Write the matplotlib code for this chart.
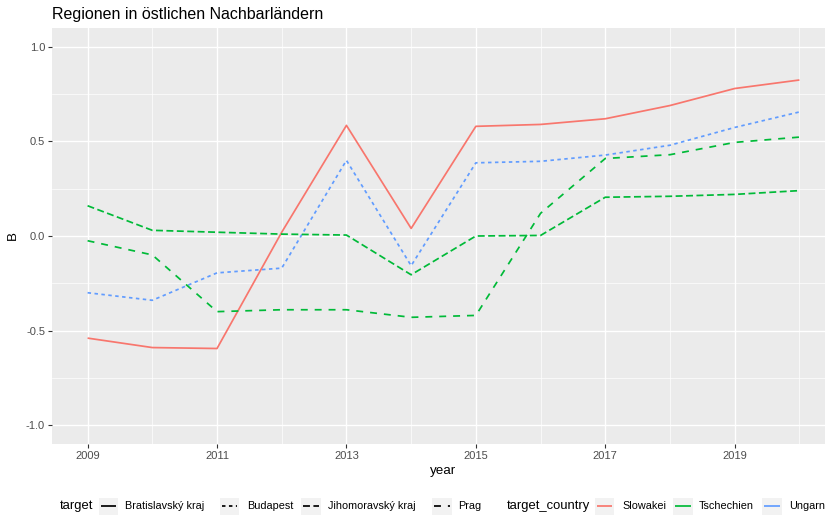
import matplotlib
matplotlib.use("Agg")
import matplotlib.pyplot as plt
from matplotlib.lines import Line2D
from matplotlib.patches import Rectangle
import numpy as np

plt.rcParams['font.family'] = ['Liberation Sans', 'DejaVu Sans']

# data
years = [2009, 2010, 2011, 2012, 2013, 2014, 2015, 2016, 2017, 2018, 2019, 2020]
bratislava = [-0.54, -0.59, -0.595, 0.02, 0.585, 0.04, 0.58, 0.59, 0.62, 0.69, 0.78, 0.825]
budapest = [-0.30, -0.34, -0.195, -0.17, 0.40, -0.157, 0.387, 0.395, 0.428, 0.48, 0.574, 0.656]
jihomoravsky = [0.16, 0.03, 0.02, 0.01, 0.005, -0.205, 0.0, 0.003, 0.205, 0.21, 0.22, 0.24]
prag = [-0.025, -0.10, -0.40, -0.39, -0.39, -0.43, -0.42, 0.12, 0.41, 0.43, 0.495, 0.523]

targets = ["Bratislavský kraj", "Budapest", "Jihomoravský kraj", "Prag"]
countries = ["Slowakei", "Tschechien", "Ungarn"]
country_colors = {"Slowakei": "#F8766D", "Tschechien": "#00BA38", "Ungarn": "#619CFF"}
series = {
    "Bratislavský kraj": (bratislava, "Slowakei"),
    "Budapest": (budapest, "Ungarn"),
    "Jihomoravský kraj": (jihomoravsky, "Tschechien"),
    "Prag": (prag, "Tschechien"),
}

# ggplot default linetypes: solid, 22, 42, 44
linestyles = {
    "Bratislavský kraj": "-",
    "Budapest": (0, (2, 2)),
    "Jihomoravský kraj": (0, (4, 2)),
    "Prag": (0, (4, 4)),
}

W, H = 825, 518
fig = plt.figure(figsize=(W / 100, H / 100), dpi=100)
fig.patch.set_facecolor("white")

# panel: left 52px, top 28px, bottom 444px, runs past the right edge
ax = fig.add_axes([52 / W, (H - 444) / H, 783 / W, 416 / H])
ax.set_facecolor("#EBEBEB")
ax.set_xlim(2008.45, 2020.55)
ax.set_ylim(-1.1, 1.1)

ax.set_xticks([2009, 2011, 2013, 2015, 2017, 2019])
ax.set_xticks([2010, 2012, 2014, 2016, 2018, 2020], minor=True)
ax.set_yticks([-1.0, -0.5, 0.0, 0.5, 1.0])
ax.set_yticks([-0.75, -0.25, 0.25, 0.75], minor=True)
ax.set_yticklabels(["-1.0", "-0.5", "0.0", "0.5", "1.0"])
ax.grid(which="major", color="white", lw=1.0)
ax.grid(which="minor", color="white", lw=0.5)
ax.set_axisbelow(True)
for s in ax.spines.values():
    s.set_visible(False)
ax.tick_params(which="major", length=3, width=0.8, color="#333333",
               labelsize=8, labelcolor="#4D4D4D", pad=2)
ax.tick_params(which="minor", length=0)

lw = 1.25
for name in targets:
    vals, ctry = series[name]
    ax.plot(years, vals, color=country_colors[ctry], lw=lw,
            linestyle=linestyles[name], solid_capstyle="butt", dash_capstyle="butt")

ax.set_xlabel("year", fontsize=9.6, labelpad=3)
ax.set_ylabel("B", fontsize=9.6, labelpad=5)

fig.text(52 / W, 1 - 14 / H, "Regionen in östlichen Nachbarländern",
         fontsize=11.5, ha="left", va="center")

# legend at the bottom, laid out like ggplot (horizontal, title on the left)
ly = 1 - 506 / H
kh = 17 / H


def key_box(x0, x1):
    fig.add_artist(Rectangle((x0 / W, ly - kh / 2), (x1 - x0) / W, kh,
                             transform=fig.transFigure, facecolor="#F2F2F2",
                             edgecolor="none"))


def key_line(x0, x1, color, ls):
    fig.add_artist(Line2D([(x0 + 2) / W, (x1 - 2) / W], [ly, ly],
                          transform=fig.transFigure, color=color, lw=lw,
                          linestyle=ls, solid_capstyle="butt", dash_capstyle="butt"))


def label(x, s, size=7.8):
    fig.text(x / W, ly, s, fontsize=size, ha="left", va="center")


label(60, "target", 9.4)
tkeys = [(99, 118, 125), (220, 239, 247), (301, 321, 328), (432, 452, 458)]
for name, (k0, k1, tx) in zip(targets, tkeys):
    key_box(k0, k1)
    key_line(k0, k1, "black", linestyles[name])
    label(tx, name)

label(507, "target_country", 9.4)
ckeys = [(595, 614, 622), (673, 693, 699), (762, 782, 789)]
for c, (k0, k1, tx) in zip(countries, ckeys):
    key_box(k0, k1)
    key_line(k0, k1, country_colors[c], "-")
    label(tx, c)

fig.savefig("out.png", dpi=100)
